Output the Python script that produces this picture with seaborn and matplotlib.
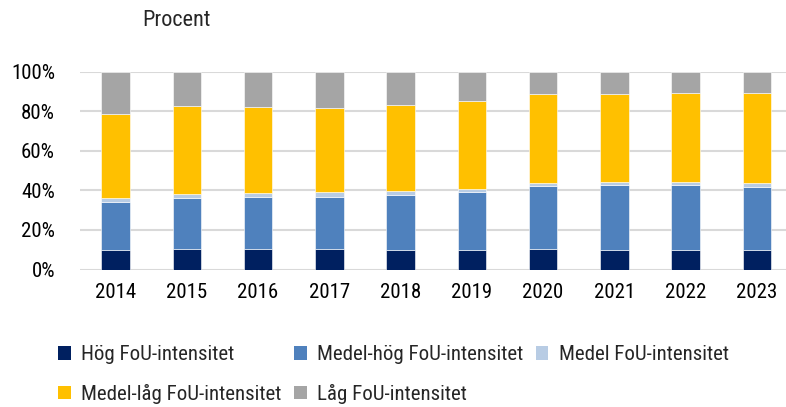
import numpy as np
import pandas as pd
import matplotlib
matplotlib.use("Agg")
import matplotlib.pyplot as plt
import seaborn as sns
from matplotlib.patches import Patch

years = ["2014", "2015", "2016", "2017", "2018", "2019", "2020", "2021", "2022", "2023"]
hog = [10.1, 10.6, 10.6, 10.3, 10.1, 9.9, 10.6, 10.1, 10.1, 9.9]
medel_hog = [23.8, 25.7, 26.0, 26.6, 27.8, 29.1, 31.6, 32.4, 32.4, 31.8]
medel = [2.2, 2.0, 2.0, 2.1, 1.7, 1.6, 1.5, 1.7, 1.7, 2.0]
medel_lag = [42.3, 44.2, 43.5, 42.5, 43.7, 44.6, 44.8, 44.7, 45.2, 45.7]
lag = [21.6, 17.5, 17.9, 18.5, 16.7, 14.8, 11.5, 11.1, 10.6, 10.6]

series_names = ["Hög FoU-intensitet", "Medel-hög FoU-intensitet", "Medel FoU-intensitet",
                "Medel-låg FoU-intensitet", "Låg FoU-intensitet"]
series_vals = [hog, medel_hog, medel, medel_lag, lag]
colors = ["#002060", "#4F81BD", "#B8CCE4", "#FFC000", "#A5A5A5"]

sns.set_theme(style="white")
plt.rcParams['font.family'] = ['Roboto Condensed', 'DejaVu Sans']

fig = plt.figure(figsize=(7.86, 4.07), dpi=100)
ax = fig.add_axes([80/786, 1 - 269.5/407, (786 - 80)/786, (269.5 - 71.7)/407])

bottom = np.zeros(len(years))
for name, vals, col in zip(series_names, series_vals, colors):
    v = np.array(vals) / 100.0
    df = pd.DataFrame({"year": years, "val": v})
    sns.barplot(data=df, x="year", y="val", color=col, bottom=bottom, width=0.4,
                ax=ax, saturation=1, edgecolor="white", linewidth=0.4, zorder=3)
    bottom = bottom + v

ax.set_ylim(0, 1.0)
ax.set_xlim(-0.5, 9.41)
ax.set_yticks(np.arange(0, 1.01, 0.2))
ax.set_yticklabels([f"{int(round(t*100))}%" for t in np.arange(0, 1.01, 0.2)])
ax.yaxis.grid(True, color="#D9D9D9", linewidth=1.5, zorder=0)
ax.set_axisbelow(True)
for s in ax.spines.values():
    s.set_visible(False)
ax.tick_params(axis="both", length=0, labelsize=15, colors="black")
ax.tick_params(axis="y", pad=18)
ax.tick_params(axis="x", pad=10)
ax.set_xlabel("")
ax.set_ylabel("")

fig.text(142/786, 1 - 21/407, "Procent", fontsize=16, va="center", ha="left")

order = [0, 3, 1, 4, 2]
handles = [Patch(facecolor=colors[i], edgecolor="none") for i in order]
labels = [series_names[i] for i in order]
fig.legend(handles, labels, ncol=3, loc="upper left", bbox_to_anchor=(50/786, 1 - 337/407),
           frameon=False, fontsize=15, handlelength=0.6, handleheight=0.6,
           handletextpad=0.5, columnspacing=0.6, labelspacing=0.95, borderaxespad=0)

fig.savefig("out.png", dpi=100)
